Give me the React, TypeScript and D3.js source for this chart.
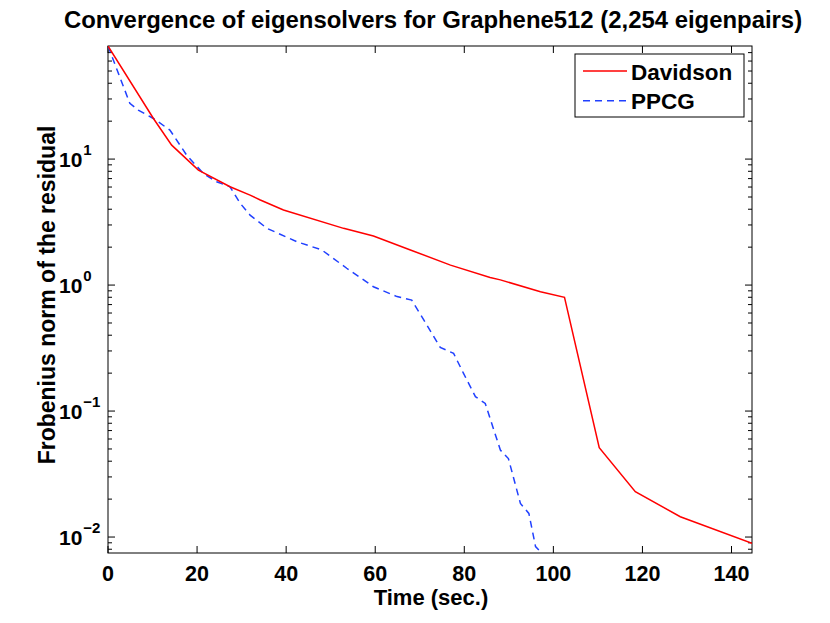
import React, { useEffect, useRef } from "react";
import * as d3 from "d3";

const davidsonT = [0, 10.2, 14.3, 20.3, 27.4, 31.9, 34.2, 39.4, 52.9, 59.6, 67.9, 76.9, 85.8, 88.1, 97.1, 102.5, 110.3, 118.4, 128.5, 144.6];
const davidsonR = [79, 21, 12.9, 8.18, 6.03, 5.18, 4.73, 3.94, 2.82, 2.45, 1.9, 1.44, 1.15, 1.1, 0.885, 0.8, 0.0512, 0.0229, 0.0145, 0.0089];

const ppcgT = [0, 4.9, 6.8, 10.2, 13.9, 17.7, 21.4, 24.4, 27.4, 29.7, 31.9, 35.7, 42.4, 48.0, 53.6, 59.6, 64.9, 68.2, 70.9, 74.6, 77.6, 79.8, 82.5, 84.7, 88.1, 89.9, 92.6, 94.5, 96.0, 97.8];
const ppcgR = [79, 27.7, 24.5, 21, 17, 10.7, 7.7, 6.6, 6.03, 4.45, 3.59, 2.82, 2.21, 1.9, 1.36, 0.97, 0.81, 0.76, 0.53, 0.32, 0.287, 0.2, 0.13, 0.115, 0.049, 0.042, 0.0185, 0.0154, 0.0084, 0.0072];

const xTicks = [0, 20, 40, 60, 80, 100, 120, 140];
const yTickExps = [-2, -1, 0, 1];
const seriesNames = ["Davidson", "PPCG"];

const W = 830, H = 623;
const L = 108, R = 752, T = 46, B = 553;
const FONT = "'Liberation Sans', Arial, Helvetica, sans-serif";

export default function App() {
  const ref = useRef<SVGSVGElement>(null);
  useEffect(() => {
    const svg = d3.select(ref.current);
    svg.selectAll("*").remove();
    const x = d3.scaleLinear().domain([0, 144.6]).range([L, R]);
    const y = d3.scaleLog().domain([0.00747, 79]).range([B, T]);

    svg.append("rect").attr("width", W).attr("height", H).attr("fill", "white");
    svg.append("defs").append("clipPath").attr("id", "clip")
      .append("rect").attr("x", L).attr("y", T).attr("width", R - L).attr("height", B - T);

    const g = svg.append("g");
    const majorLen = 7, minorLen = 4;
    xTicks.forEach((t) => {
      const px = x(t);
      g.append("line").attr("x1", px).attr("x2", px).attr("y1", B).attr("y2", B - majorLen).attr("stroke", "#000");
      g.append("line").attr("x1", px).attr("x2", px).attr("y1", T).attr("y2", T + majorLen).attr("stroke", "#000");
      g.append("text").attr("x", px).attr("y", 581).attr("text-anchor", "middle")
        .attr("font-family", FONT).attr("font-weight", "bold").attr("font-size", 21.5).text(String(t));
    });
    for (let e = -3; e <= 2; e++) {
      for (let m = 1; m <= 9; m++) {
        const v = m * Math.pow(10, e);
        if (v < y.domain()[0] || v > y.domain()[1]) continue;
        const py = y(v);
        const len = m === 1 ? majorLen : minorLen;
        g.append("line").attr("x1", L).attr("x2", L + len).attr("y1", py).attr("y2", py).attr("stroke", "#000");
        g.append("line").attr("x1", R).attr("x2", R - len).attr("y1", py).attr("y2", py).attr("stroke", "#000");
      }
    }
    yTickExps.forEach((e) => {
      const py = y(Math.pow(10, e));
      const t = g.append("text").attr("x", 59).attr("y", py + 8).attr("text-anchor", "start")
        .attr("font-family", FONT).attr("font-weight", "bold").attr("font-size", 21);
      t.append("tspan").text("10");
      t.append("tspan").attr("dy", -12).attr("dx", 1).attr("font-size", 15).text(e < 0 ? "\u2212" + Math.abs(e) : String(e));
    });

    g.append("rect").attr("x", L).attr("y", T).attr("width", R - L).attr("height", B - T)
      .attr("fill", "none").attr("stroke", "#000").attr("stroke-width", 1);

    const line = d3.line<[number, number]>().x((d) => x(d[0])).y((d) => y(d[1]));
    const dav: [number, number][] = davidsonT.map((t, i) => [t, davidsonR[i]]);
    const pp: [number, number][] = ppcgT.map((t, i) => [t, ppcgR[i]]);
    const lines = svg.append("g").attr("clip-path", "url(#clip)");
    lines.append("path").attr("d", line(pp)!).attr("fill", "none").attr("stroke", "#2040ff")
      .attr("stroke-width", 1.5).attr("stroke-dasharray", "7,5");
    lines.append("path").attr("d", line(dav)!).attr("fill", "none").attr("stroke", "#ff0000")
      .attr("stroke-width", 1.5);

    svg.append("text").attr("x", 433).attr("y", 28).attr("text-anchor", "middle")
      .attr("font-family", FONT).attr("font-weight", "bold").attr("font-size", 23.9)
      .text("Convergence of eigensolvers for Graphene512 (2,254 eigenpairs)");
    svg.append("text").attr("x", 431).attr("y", 605).attr("text-anchor", "middle")
      .attr("font-family", FONT).attr("font-weight", "bold").attr("font-size", 22).text("Time (sec.)");
    svg.append("text").attr("transform", `translate(55,${295}) rotate(-90)`).attr("text-anchor", "middle")
      .attr("font-family", FONT).attr("font-weight", "bold").attr("font-size", 23).text("Frobenius norm of the residual");

    const lg = svg.append("g");
    lg.append("rect").attr("x", 575).attr("y", 54).attr("width", 169).attr("height", 63)
      .attr("fill", "white").attr("stroke", "#000").attr("stroke-width", 1);
    const colors = ["#ff0000", "#2040ff"];
    seriesNames.forEach((n, i) => {
      const ly = 71 + i * 29.7;
      lg.append("line").attr("x1", 583).attr("x2", 627).attr("y1", ly).attr("y2", ly)
        .attr("stroke", colors[i]).attr("stroke-width", 1.5).attr("stroke-dasharray", i === 1 ? "7,5" : null);
      lg.append("text").attr("x", 631).attr("y", ly + 8.5).attr("font-family", FONT).attr("font-weight", "bold")
        .attr("font-size", 22.5).text(n);
    });
  }, []);
  return <svg ref={ref} width={W} height={H} style={{ position: "absolute", left: 0, top: 0 }} />;
}
